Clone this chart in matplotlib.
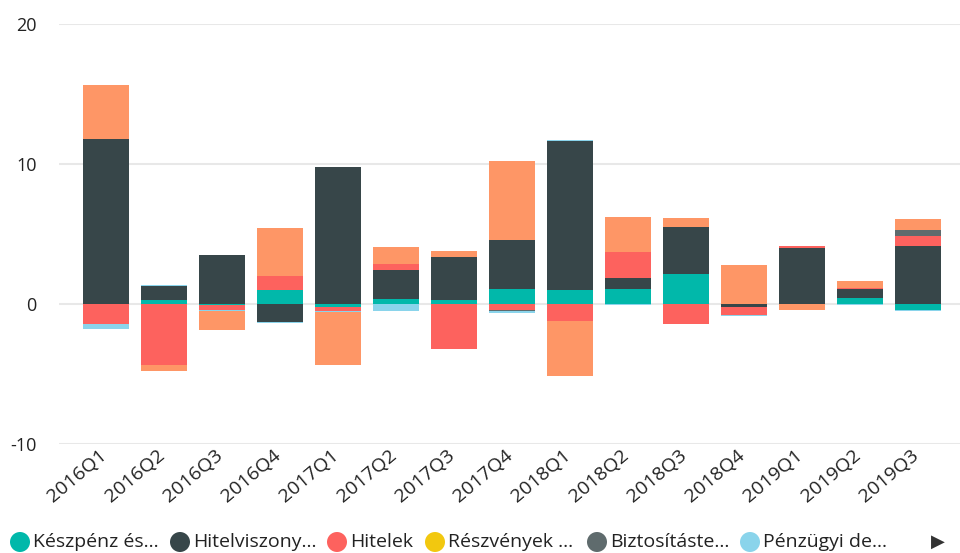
import matplotlib
matplotlib.use("Agg")
import matplotlib.pyplot as plt
import matplotlib.transforms as mtransforms
import numpy as np
from matplotlib.patches import Ellipse

categories = ["2016Q1", "2016Q2", "2016Q3", "2016Q4", "2017Q1", "2017Q2", "2017Q3",
              "2017Q4", "2018Q1", "2018Q2", "2018Q3", "2018Q4", "2019Q1", "2019Q2", "2019Q3"]

keszpenz = [0.0, 0.26, -0.08, 0.98, -0.22, 0.33, 0.26, 1.05, 0.98, 1.05, 2.12, 0.0, 0.0, 0.40, -0.45]
hitelviszony = [11.76, 1.00, 3.48, -1.31, 9.75, 2.07, 3.07, 3.50, 10.64, 0.79, 3.36, -0.21, 4.00, 0.64, 4.14]
hitelek = [-1.45, -4.38, -0.36, 1.00, -0.29, 0.43, -3.24, -0.45, -1.24, 1.86, -1.45, -0.57, 0.14, 0.07, 0.71]
reszvenyek = [0.0] * 15
biztositas = [0.0, 0.0, 0.0, 0.0, 0.0, 0.0, 0.0, -0.07, 0.0, 0.0, 0.0, 0.0, 0.0, 0.0, 0.43]
derivativak = [-0.36, 0.07, -0.07, -0.07, -0.10, -0.52, 0.0, -0.14, 0.07, -0.07, 0.0, -0.07, 0.0, -0.07, -0.07]
egyeb = [3.87, -0.41, -1.36, 3.43, -3.79, 1.21, 0.43, 5.65, -3.93, 2.50, 0.64, 2.79, -0.43, 0.50, 0.79]

series_names = ["Készpénz és...", "Hitelviszony...", "Hitelek", "Részvények ...",
                "Biztosításte...", "Pénzügyi de...", "Egyéb"]
series_values = [keszpenz, hitelviszony, hitelek, reszvenyek, biztositas, derivativak, egyeb]
colors = ["#01B8AA", "#374649", "#FD625E", "#F2C80F", "#5F6B6D", "#8AD4EB", "#FE9666"]
legend_count = 6

font = ["Open Sans", "DejaVu Sans"]

fig = plt.figure(figsize=(9.6, 5.53), dpi=100)
W, H = 960, 553
ax_left, ax_right = 59, 960
y_top, y_bot = 23.7, 443.7
ax = fig.add_axes([ax_left / W, 1 - y_bot / H, (ax_right - ax_left) / W, (y_bot - y_top) / H])

x = np.arange(len(categories))
pos_base = np.zeros(len(categories))
neg_base = np.zeros(len(categories))
for vals, col in zip(series_values, colors):
    v = np.array(vals, dtype=float)
    pos = np.where(v > 0, v, 0)
    neg = np.where(v < 0, v, 0)
    ax.bar(x, pos, bottom=pos_base, width=0.793, color=col, linewidth=0, zorder=3)
    ax.bar(x, neg, bottom=neg_base, width=0.793, color=col, linewidth=0, zorder=3)
    pos_base += pos
    neg_base += neg

ax.set_ylim(-10, 20)
ax.set_xlim((59 - 106) / 58, (960 - 106) / 58)
ax.set_yticks([-10, 0, 10, 20])
ax.set_yticklabels(["-10", "0", "10", "20"])
ax.grid(axis="y", color="#E8E8E8", linewidth=1.5, zorder=0)
ax.set_axisbelow(True)
for s in ax.spines.values():
    s.set_visible(False)
ax.tick_params(axis="y", length=0, pad=16, labelsize=13, labelcolor="#222222")
ax.tick_params(axis="x", length=0, pad=2)
ax.set_xticks(x)
ax.set_xticklabels(categories, rotation=40, ha="right", rotation_mode="anchor",
                   fontsize=14, family=font, color="#222222")
shift = mtransforms.ScaledTranslation(-7 / 100, 0, fig.dpi_scale_trans)
for lbl in ax.get_xticklabels():
    lbl.set_transform(lbl.get_transform() + shift)
for lbl in ax.get_yticklabels():
    lbl.set_fontfamily(font)

# Legend drawn manually
legend_text_x = [33, 193, 350, 448, 610, 763]
ly = 1 - 542 / H
for name, col, tx in zip(series_names[:legend_count], colors[:legend_count], legend_text_x):
    ell = Ellipse(((tx - 13) / W, ly), width=20 / W, height=20 / H, transform=fig.transFigure,
                  facecolor=col, edgecolor="none")
    fig.patches.append(ell)
    fig.text(tx / W, ly, name, fontsize=14, family=font, va="center",
             ha="left", color="#222222")

fig.text(938 / W, ly, "\u25B6", fontsize=13, va="center", ha="center", color="#333333",
         family=["DejaVu Sans"])

fig.savefig("out.png", dpi=100)
